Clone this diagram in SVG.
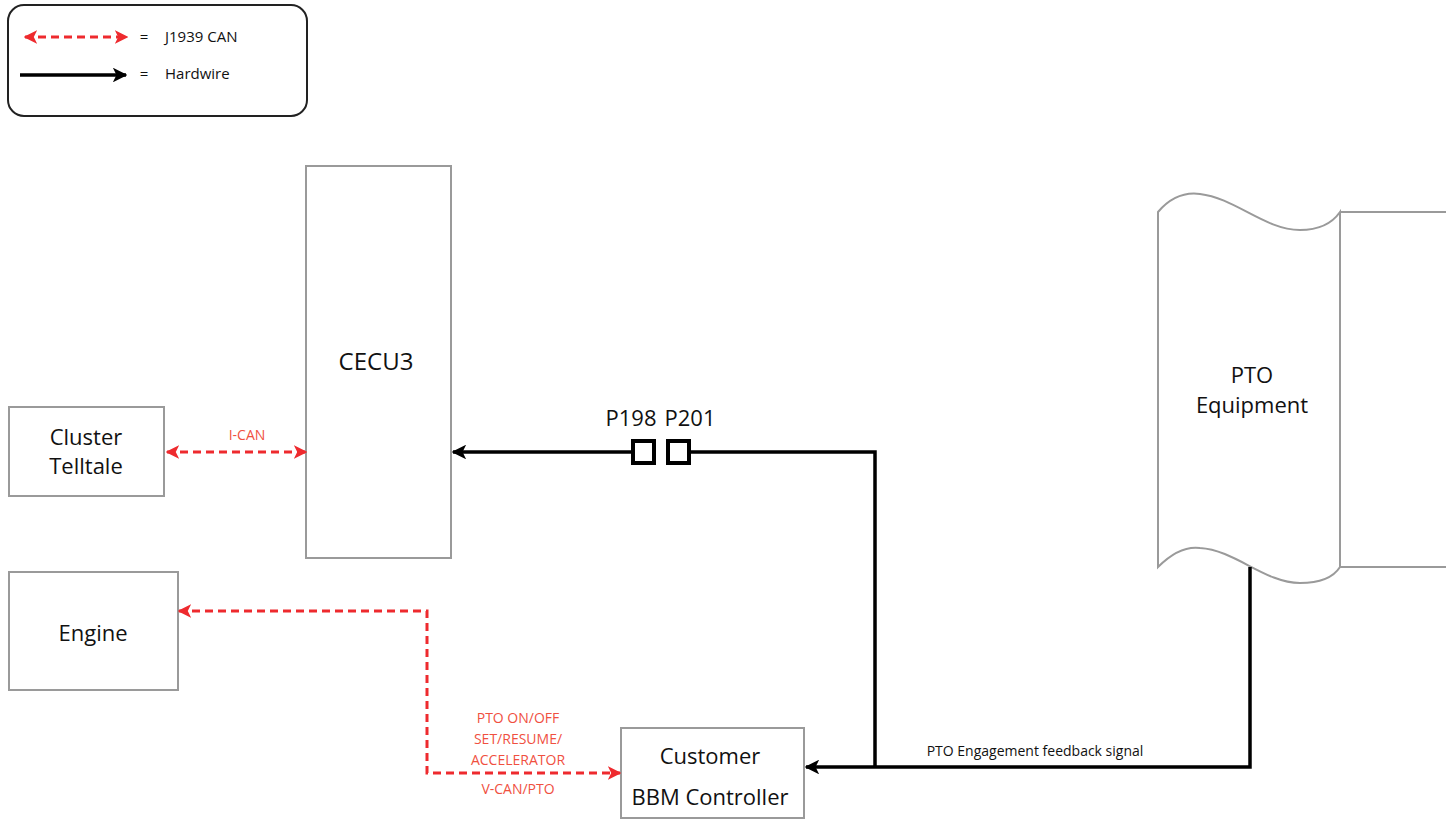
<svg xmlns="http://www.w3.org/2000/svg" width="1453" height="820" viewBox="0 0 1453 820">
<defs>
<marker id="ar" viewBox="0 0 10 10" refX="9" refY="5" markerWidth="4.5" markerHeight="4.5" orient="auto-start-reverse" markerUnits="strokeWidth"><path d="M0,0 L10,5 L0,10 L2.5,5 Z" fill="#ee2a2e"/></marker>
<marker id="ab" viewBox="0 0 10 10" refX="9" refY="5" markerWidth="4.2" markerHeight="4.2" orient="auto-start-reverse" markerUnits="strokeWidth"><path d="M0,0 L10,5 L0,10 L2.5,5 Z" fill="#000"/></marker>
</defs>
<style>
.box{fill:#fff;stroke:#9a9a9a;stroke-width:2}
.t{font-family:"Open Sans","Noto Sans",sans-serif;fill:#111;text-anchor:middle}
.big{font-size:22px}
.lbl{font-family:"Open Sans","Noto Sans",sans-serif;font-size:14px;text-anchor:middle}
.red{fill:#f0503f}
.can{fill:none;stroke:#ee2a2e;stroke-width:3;stroke-dasharray:8,5}
.hw{fill:none;stroke:#000;stroke-width:3.5}
</style>
<rect width="1453" height="820" fill="#fff"/>
<g id="legend">
<rect x="8" y="5" width="299" height="111" rx="16" fill="#fff" stroke="#222" stroke-width="2"/>
<line x1="25" y1="37" x2="127" y2="37" class="can" marker-start="url(#ar)" marker-end="url(#ar)"/>
<line x1="20" y1="75" x2="126" y2="75" class="hw" marker-end="url(#ab)"/>
<text x="144" y="42" class="t" style="font-size:15px">=</text>
<text x="165" y="42" class="t" style="font-size:15px;text-anchor:start">J1939 CAN</text>
<text x="144" y="79" class="t" style="font-size:15px">=</text>
<text x="165" y="79" class="t" style="font-size:15px;text-anchor:start">Hardwire</text>
</g>
<g id="cecu3">
<rect x="306" y="166" width="145" height="392" class="box"/>
<text x="376" y="370" class="t" style="font-size:24px">CECU3</text>
</g>
<g id="cluster">
<rect x="9" y="407" width="155" height="89" class="box"/>
<text x="86" y="445" class="t big">Cluster</text>
<text x="86" y="474" class="t big">Telltale</text>
</g>
<g id="engine">
<rect x="9" y="572" width="169" height="118" class="box"/>
<text x="93" y="641" class="t big">Engine</text>
</g>
<g id="bbm">
<rect x="621" y="728" width="183" height="90" class="box"/>
<text x="710" y="764" class="t big">Customer</text>
<text x="710" y="805" class="t big">BBM Controller</text>
</g>
<g id="pto">
<path d="M1158,212 C1170,198 1185,192 1200,194 C1235,198 1265,230 1300,230 C1320,230 1333,222 1340,212 L1340,567 C1333,578 1320,583 1300,583 C1265,583 1235,550 1200,548 C1185,546 1170,555 1158,567 Z" class="box"/>
<path d="M1340,212 L1446,212 M1340,567 L1446,567" fill="none" stroke="#9a9a9a" stroke-width="2"/>
<text x="1252" y="383" class="t big">PTO</text>
<text x="1252" y="413" class="t big">Equipment</text>
</g>
<g id="connectors">
<line x1="167" y1="452" x2="306" y2="452" class="can" marker-start="url(#ar)" marker-end="url(#ar)"/>
<path d="M179,611 L427,611 L427,773 L620,773" class="can" marker-start="url(#ar)" marker-end="url(#ar)"/>
<line x1="633" y1="452" x2="453" y2="452" class="hw" marker-end="url(#ab)"/>
<path d="M689,452 L875,452 L875,767" class="hw"/>
<path d="M1250,567 L1250,767 L806,767" class="hw" marker-end="url(#ab)"/>
<rect x="633" y="441" width="21" height="22" fill="#fff" stroke="#000" stroke-width="4"/>
<rect x="668" y="441" width="21" height="22" fill="#fff" stroke="#000" stroke-width="4"/>
<text x="631" y="426" class="t big">P198</text>
<text x="690" y="426" class="t big">P201</text>
<text x="247" y="440" class="lbl red">I-CAN</text>
<text x="518" y="723" class="lbl red">PTO ON/OFF</text>
<text x="518" y="744" class="lbl red">SET/RESUME/</text>
<text x="518" y="765" class="lbl red">ACCELERATOR</text>
<text x="518" y="794" class="lbl red">V-CAN/PTO</text>
<text x="1035" y="756" class="lbl" fill="#111">PTO Engagement feedback signal</text>
</g>
</svg>
